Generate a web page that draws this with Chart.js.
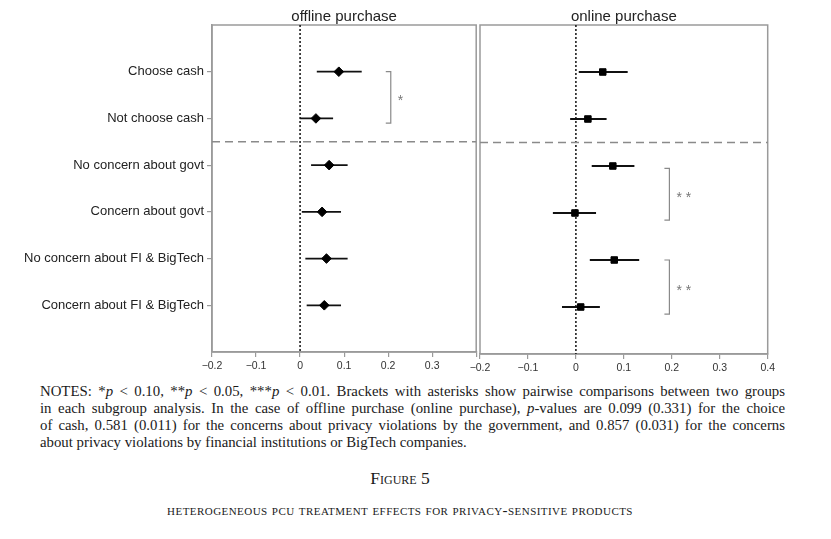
<!DOCTYPE html>
<html>
<head>
<meta charset="utf-8">
<script src="https://cdn.jsdelivr.net/npm/chart.js@4.4.1/dist/chart.umd.min.js"></script>
<style>
  body { margin: 0; background: #fff; width: 831px; height: 539px; position: relative; overflow: hidden; }
  canvas { position: absolute; top: 0; }
  #left { left: 0; }
  #right { left: 466px; }
  .notes { position: absolute; left: 40px; top: 383px; width: 745px; font-family: "Liberation Serif", "Times New Roman", serif; font-size: 14.8px; color: #1a1a1a; line-height: 17px; }
  .notes div { text-align: justify; text-align-last: justify; white-space: nowrap; }
  .notes div.last { text-align-last: left; }
  .fig { position: absolute; left: 0; width: 800px; text-align: center; font-family: "Liberation Serif", "Times New Roman", serif; color: #1a1a1a; font-variant: small-caps; }
</style>
</head>
<body>
<canvas id="left" width="482" height="380"></canvas>
<canvas id="right" width="312" height="380"></canvas>

<div class="notes">
  <div>NOTES: *<i>p</i> &lt; 0.10, **<i>p</i> &lt; 0.05, ***<i>p</i> &lt; 0.01. Brackets with asterisks show pairwise comparisons between two groups</div>
  <div>in each subgroup analysis. In the case of offline purchase (online purchase), <i>p</i>-values are 0.099 (0.331) for the choice</div>
  <div>of cash, 0.581 (0.011) for the concerns about privacy violations by the government, and 0.857 (0.031) for the concerns</div>
  <div class="last">about privacy violations by financial institutions or BigTech companies.</div>
</div>
<div class="fig" style="top:468px; font-size:17.5px;">Figure 5</div>
<div class="fig" style="top:502px; font-size:15px; letter-spacing:0.45px;">heterogeneous pcu treatment effects for privacy-sensitive products</div>

<script>
// groups, top to bottom
const groups = ['Choose cash', 'Not choose cash', 'No concern about govt', 'Concern about govt',
                'No concern about FI & BigTech', 'Concern about FI & BigTech'];
const rows = [1, 2, 3, 4, 5, 6];

// offline purchase: point estimate and confidence interval
const offEst = [0.088, 0.036, 0.066, 0.050, 0.060, 0.055];
const offLo  = [0.038, 0.000, 0.025, 0.004, 0.012, 0.015];
const offHi  = [0.140, 0.075, 0.108, 0.093, 0.108, 0.093];

// online purchase
const onEst = [0.056, 0.025, 0.077, -0.002, 0.080, 0.010];
const onLo  = [0.006, -0.012, 0.033, -0.048, 0.029, -0.029];
const onHi  = [0.108, 0.064, 0.122, 0.042, 0.132, 0.050];

// pairwise comparison brackets (x position, first row, last row, stars)
const offBrackets = [{ x: 0.206, from: 1.0, to: 2.1, label: '*' }];
const onBrackets = [{ x: 0.195, from: 3.05, to: 4.15, label: '**' },
                    { x: 0.195, from: 5.0, to: 6.15, label: '**' }];

const xTicks = [-0.2, -0.1, 0, 0.1, 0.2, 0.3, 0.4];
const divider = 2.5;

const frameColor = '#9a9a9a';
const sansFont = '"Liberation Sans", Arial, Helvetica, sans-serif';

function fmt(v) {
    if (Math.abs(v) < 1e-9) return '0';
    return (v < 0 ? '\u2212' : '') + Math.abs(v).toFixed(1);
}

// draws frame, reference lines, error bars, brackets and panel title
const panelDecor = {
    id: 'panelDecor',
    beforeDatasetsDraw(chart, args, opts) {
        const { ctx, chartArea: a, scales: { x, y } } = chart;
        ctx.save();
        // frame
        ctx.strokeStyle = frameColor;
        ctx.lineWidth = 1.5;
        ctx.strokeRect(a.left, a.top, a.right - a.left, a.bottom - a.top);
        // zero line
        ctx.strokeStyle = '#111';
        ctx.lineWidth = 1.5;
        ctx.setLineDash([2, 2]);
        ctx.beginPath();
        ctx.moveTo(x.getPixelForValue(0), a.top);
        ctx.lineTo(x.getPixelForValue(0), a.bottom);
        ctx.stroke();
        // divider between subgroup blocks
        ctx.strokeStyle = '#8a8a8a';
        ctx.setLineDash([8, 5]);
        ctx.beginPath();
        ctx.moveTo(a.left, y.getPixelForValue(divider));
        ctx.lineTo(a.right, y.getPixelForValue(divider));
        ctx.stroke();
        ctx.setLineDash([]);
        // error bars
        ctx.strokeStyle = '#111';
        ctx.lineWidth = 1.8;
        opts.lo.forEach((lo, i) => {
            const py = y.getPixelForValue(rows[i]);
            ctx.beginPath();
            ctx.moveTo(x.getPixelForValue(lo), py);
            ctx.lineTo(x.getPixelForValue(opts.hi[i]), py);
            ctx.stroke();
        });
        // brackets
        ctx.strokeStyle = '#8a8a8a';
        ctx.fillStyle = '#777';
        ctx.lineWidth = 1.2;
        ctx.font = '14px ' + sansFont;
        ctx.textBaseline = 'middle';
        opts.brackets.forEach(b => {
            const bx = x.getPixelForValue(b.x);
            const y1 = y.getPixelForValue(b.from);
            const y2 = y.getPixelForValue(b.to);
            ctx.beginPath();
            ctx.moveTo(bx - 5, y1);
            ctx.lineTo(bx, y1);
            ctx.lineTo(bx, y2);
            ctx.lineTo(bx - 5, y2);
            ctx.stroke();
            ctx.fillText(b.label.split('').join(' '), bx + 7, (y1 + y2) / 2 + 4);
        });
        // title
        ctx.fillStyle = '#222';
        ctx.font = '15px ' + sansFont;
        ctx.textAlign = 'center';
        ctx.textBaseline = 'alphabetic';
        ctx.fillText(opts.title, (a.left + a.right) / 2, a.top - 4);
        ctx.restore();
    }
};

function makePanel(id, title, est, lo, hi, brackets, marker, showY, pad, hideLast, xHeight) {
    return new Chart(document.getElementById(id), {
        type: 'scatter',
        data: {
            datasets: [{
                data: est.map((v, i) => ({ x: v, y: rows[i] })),
                pointStyle: marker,
                pointRadius: marker === 'rect' ? 4.6 : 4.8,
                backgroundColor: '#000',
                borderColor: '#000',
                borderWidth: 1
            }]
        },
        options: {
            responsive: false,
            animation: false,
            layout: { padding: pad },
            plugins: {
                legend: { display: false },
                tooltip: { enabled: false },
                panelDecor: { title: title, lo: lo, hi: hi, brackets: brackets }
            },
            scales: {
                x: {
                    type: 'linear',
                    min: -0.2,
                    max: 0.4,
                    afterBuildTicks: s => { s.ticks = xTicks.map(v => ({ value: v })); },
                    afterFit: s => { s.height = xHeight; },
                    ticks: {
                        autoSkip: false,
                        maxRotation: 0,
                        padding: 3,
                        color: '#333',
                        font: { family: sansFont, size: 10.5 },
                        callback: v => (hideLast && v === 0.4) ? '' : fmt(v)
                    },
                    grid: { drawOnChartArea: false, drawTicks: true, tickLength: 5, color: frameColor, lineWidth: 1.2 },
                    border: { display: true, color: frameColor, width: 1.5 }
                },
                y: {
                    type: 'linear',
                    min: 0,
                    max: 7,
                    reverse: true,
                    display: showY,
                    afterBuildTicks: s => { s.ticks = rows.map(v => ({ value: v })); },
                    afterFit: s => { s.width = showY ? 212 : 0; },
                    ticks: {
                        autoSkip: false,
                        padding: 3,
                        color: '#222',
                        font: { family: sansFont, size: 13 },
                        callback: v => groups[rows.indexOf(v)]
                    },
                    grid: { drawOnChartArea: false, drawTicks: true, tickLength: 5, color: frameColor, lineWidth: 1.2 },
                    border: { display: true, color: frameColor, width: 1.5 }
                }
            }
        },
        plugins: [panelDecor]
    });
}

makePanel('left', 'offline purchase', offEst, offLo, offHi, offBrackets, 'rectRot', true,
    { top: 25, right: 4, left: 0, bottom: 0 }, true, 28);
makePanel('right', 'online purchase', onEst, onLo, onHi, onBrackets, 'rect', false,
    { top: 25, right: 8, left: 14, bottom: 0 }, false, 26);
</script>
</body>
</html>
